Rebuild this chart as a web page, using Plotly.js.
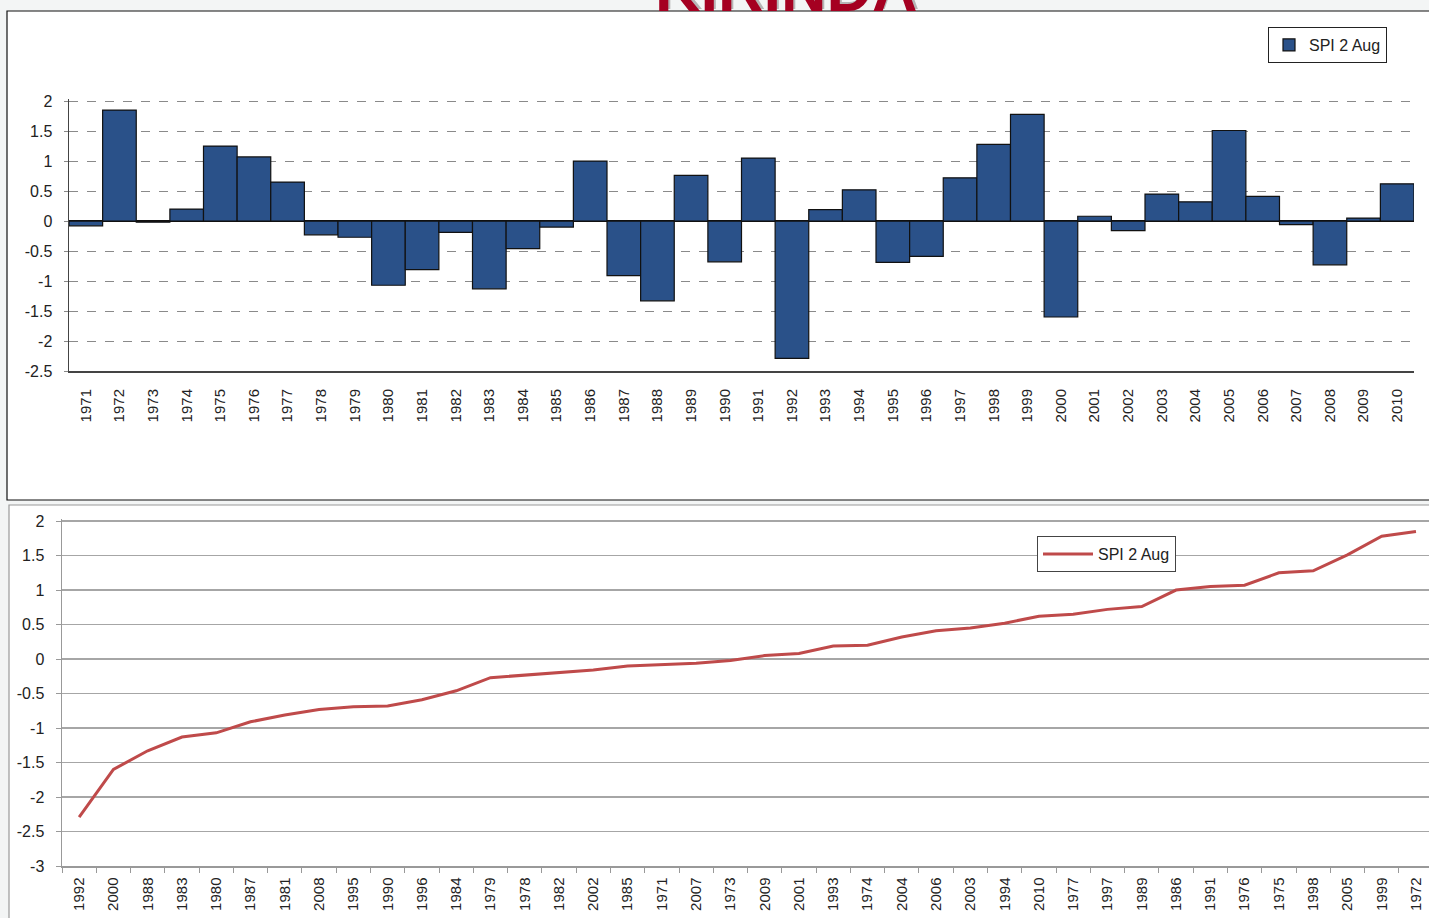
<!DOCTYPE html>
<html>
<head>
<meta charset="utf-8">
<script src="https://cdn.plot.ly/plotly-3.0.1.min.js"></script>
<style>
  html, body { margin: 0; padding: 0; background: #f3f5f5; }
  #chart { width: 1429px; height: 918px; }
</style>
</head>
<body>
<div id="chart"></div>
<script>
/* ── data (SPI 2 Aug, Kirinda) ── */
const years = ['1971','1972','1973','1974','1975','1976','1977','1978','1979','1980',
               '1981','1982','1983','1984','1985','1986','1987','1988','1989','1990',
               '1991','1992','1993','1994','1995','1996','1997','1998','1999','2000',
               '2001','2002','2003','2004','2005','2006','2007','2008','2009','2010'];
const spi   = [-0.08, 1.85, -0.02, 0.20, 1.25, 1.07, 0.65, -0.23, -0.27, -1.07,
               -0.81, -0.19, -1.13, -0.46, -0.10, 1.00, -0.91, -1.33, 0.76, -0.68,
               1.05, -2.29, 0.19, 0.52, -0.69, -0.59, 0.72, 1.28, 1.78, -1.60,
               0.08, -0.16, 0.45, 0.32, 1.51, 0.41, -0.06, -0.73, 0.05, 0.62];
// order of the lower chart (ascending SPI)
const rankedYears = ['1992','2000','1988','1983','1980','1987','1981','2008','1995','1990',
                     '1996','1984','1979','1978','1982','2002','1985','1971','2007','1973',
                     '2009','2001','1993','1974','2004','2006','2003','1994','2010','1977',
                     '1997','1989','1986','1991','1976','1975','1998','2005','1999','1972'];
const rankedSpi = rankedYears.map(y => spi[years.indexOf(y)]);

// y tick labels (plain hyphen minus, as in the original)
const topTicks    = [-2.5, -2, -1.5, -1, -0.5, 0, 0.5, 1, 1.5, 2];
const bottomTicks = [-3, -2.5, -2, -1.5, -1, -0.5, 0, 0.5, 1, 1.5, 2];
const tickText = v => String(v);

/* ── page geometry helpers (pixels -> paper) ── */
const W = 1429, H = 918;
const px = x => x / W;
const py = y => 1 - y / H;

const FONT = 'Liberation Sans, Arial, sans-serif';

const traces = [
  {
    type: 'bar', x: years, y: spi, name: 'SPI 2 Aug',
    xaxis: 'x', yaxis: 'y',
    marker: { color: '#2a5189', line: { color: '#111', width: 1.2 } },
    legend: 'legend'
  },
  {
    type: 'scatter', mode: 'lines', x: rankedYears, y: rankedSpi, name: 'SPI 2 Aug',
    xaxis: 'x2', yaxis: 'y2',
    line: { color: '#bf4a4a', width: 3 },
    legend: 'legend2'
  }
];

const layout = {
  width: W, height: H,
  margin: { t: 0, r: 0, b: 0, l: 0 },
  paper_bgcolor: '#f3f5f5',
  plot_bgcolor: 'rgba(0,0,0,0)',
  font: { family: FONT, color: '#222', size: 16 },
  bargap: 0,
  showlegend: true,

  // top bar chart
  xaxis: {
    domain: [px(69), px(1414)], anchor: 'y',
    type: 'category', range: [-0.5, 39.5],
    showgrid: false, showline: true, linecolor: '#444', linewidth: 2,
    ticks: '', tickangle: -90, ticklabelstandoff: 10,
    tickfont: { size: 15, color: '#222' }
  },
  yaxis: {
    domain: [py(371), py(99)], anchor: 'x',
    range: [-2.5, 2.035], tickvals: topTicks, ticktext: topTicks.map(tickText),
    showgrid: true, gridcolor: '#8a8a8a', griddash: 'dash', gridwidth: 1,
    zeroline: true, zerolinecolor: '#111', zerolinewidth: 1.5,
    showline: true, linecolor: '#444', linewidth: 1.5,
    ticks: 'outside', ticklen: 4, tickcolor: '#888', ticklabelstandoff: 8,
    tickfont: { size: 16, color: '#222' }
  },

  // bottom sorted line chart
  xaxis2: {
    domain: [px(62), 1], anchor: 'y2',
    type: 'category', range: [-0.5, 39.38],
    showgrid: false, showline: true, linecolor: '#999', linewidth: 1.5,
    ticks: 'outside', tickson: 'boundaries', ticklen: 5, tickcolor: '#999',
    tickangle: -90, ticklabelstandoff: 4,
    tickfont: { size: 15, color: '#222' }
  },
  yaxis2: {
    domain: [py(866), py(519)], anchor: 'x2',
    range: [-3, 2.03], tickvals: bottomTicks, ticktext: bottomTicks.map(tickText),
    showgrid: true, gridcolor: '#a6a6a6', gridwidth: 1.2,
    zeroline: false,
    showline: true, linecolor: '#999', linewidth: 1.5,
    ticks: 'outside', ticklen: 5, tickcolor: '#999', ticklabelstandoff: 8,
    tickfont: { size: 16, color: '#222' }
  },

  legend: {
    x: px(1268), y: py(27), xanchor: 'left', yanchor: 'top',
    bgcolor: '#fff', bordercolor: '#222', borderwidth: 1,
    font: { size: 16, color: '#222' }, itemwidth: 30
  },
  legend2: {
    x: px(1037), y: py(536), xanchor: 'left', yanchor: 'top',
    bgcolor: '#fff', bordercolor: '#444', borderwidth: 1,
    font: { size: 16, color: '#222' }, itemwidth: 50
  },

  shapes: [
    // chart frames on the slide
    { type: 'rect', xref: 'paper', yref: 'paper', layer: 'below',
      x0: px(7), x1: px(1460), y0: py(500), y1: py(11),
      fillcolor: '#fff', line: { color: '#111', width: 1.2 } },
    { type: 'rect', xref: 'paper', yref: 'paper', layer: 'below',
      x0: px(9), x1: px(1460), y0: py(940), y1: py(505),
      fillcolor: '#fff', line: { color: '#9a9a9a', width: 1.2 } }
  ],

  annotations: [
    // slide title, mostly cut off at the top edge
    { text: '<b>KIRINDA</b>', xref: 'paper', yref: 'paper',
      x: px(788), y: py(24), xanchor: 'center', yanchor: 'bottom', showarrow: false,
      font: { family: FONT, size: 63, color: '#b5b5b5' } },
    { text: '<b>KIRINDA</b>', xref: 'paper', yref: 'paper',
      x: px(786), y: py(26), xanchor: 'center', yanchor: 'bottom', showarrow: false,
      font: { family: FONT, size: 63, color: '#a50021' } }
  ]
};

Plotly.newPlot('chart', traces, layout, { displayModeBar: false, staticPlot: true });
</script>
</body>
</html>
